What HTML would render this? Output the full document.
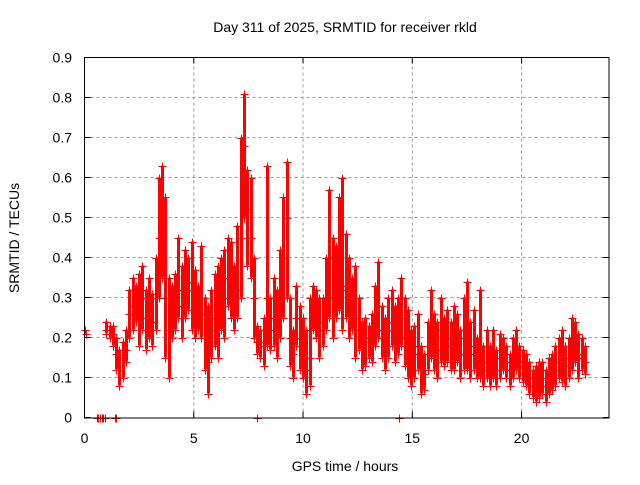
<!DOCTYPE html>
<html><head><meta charset="utf-8"><style>
html,body{margin:0;padding:0;background:#fff;}
svg text{font-family:"Liberation Sans","DejaVu Sans",sans-serif;font-size:14px;fill:#000;}
</style></head><body>
<svg id="chart" width="640" height="480" viewBox="0 0 640 480" xmlns="http://www.w3.org/2000/svg">
<rect width="640" height="480" fill="#fff"/>
<g id="grid"></g>
<g id="marks"></g>
<rect x="84.5" y="57.5" width="524.5" height="360.5" fill="none" stroke="#000" stroke-width="1"/>
<g id="ticks"></g>
<text x="345" y="32" text-anchor="middle">Day 311 of 2025, SRMTID for receiver rkld</text>
<text x="345" y="471" text-anchor="middle">GPS time / hours</text>
<text x="19" y="238" text-anchor="middle" transform="rotate(-90 19 238)">SRMTID / TECUs</text>
</svg>
<script>
const xTicks=[0,5,10,15,20];
const yTicks=[0,0.1,0.2,0.3,0.4,0.5,0.6,0.7,0.8,0.9];
const yTickLabels=["0","0.1","0.2","0.3","0.4","0.5","0.6","0.7","0.8","0.9"];
const hours=[1.00,1.15,1.30,1.45,1.60,1.75,1.90,2.05,2.20,2.35,2.50,2.65,2.80,2.95,3.10,3.25,3.40,3.55,3.70,3.85,4.00,4.15,4.30,4.45,4.60,4.75,4.90,5.05,5.20,5.35,5.50,5.65,5.80,5.95,6.10,6.25,6.40,6.55,6.70,6.85,7.00,7.15,7.30,7.45,7.60,7.75,7.90,8.05,8.20,8.35,8.50,8.65,8.80,8.95,9.10,9.25,9.40,9.55,9.70,9.85,10.00,10.15,10.30,10.45,10.60,10.75,10.90,11.05,11.20,11.35,11.50,11.65,11.80,11.95,12.10,12.25,12.40,12.55,12.70,12.85,13.00,13.15,13.30,13.45,13.60,13.75,13.90,14.05,14.20,14.35,14.50,14.65,14.80,14.95,15.10,15.25,15.40,15.55,15.70,15.85,16.00,16.15,16.30,16.45,16.60,16.75,16.90,17.05,17.20,17.35,17.50,17.65,17.80,17.95,18.10,18.25,18.40,18.55,18.70,18.85,19.00,19.15,19.30,19.45,19.60,19.75,19.90,20.05,20.20,20.35,20.50,20.65,20.80,20.95,21.10,21.25,21.40,21.55,21.70,21.85,22.00,22.15,22.30,22.45,22.60,22.75,22.90];
const lowVals=[.21,.20,.18,.12,.08,.10,.14,.20,.22,.24,.18,.22,.17,.20,.18,.22,.30,.35,.15,.10,.20,.22,.25,.20,.25,.27,.22,.20,.22,.20,.12,.06,.15,.18,.15,.22,.20,.28,.25,.22,.25,.30,.50,.38,.35,.20,.16,.15,.13,.18,.17,.18,.15,.20,.25,.30,.13,.10,.18,.12,.10,.06,.08,.22,.20,.15,.18,.22,.25,.20,.25,.27,.22,.25,.20,.22,.15,.17,.12,.13,.15,.14,.18,.20,.15,.12,.15,.18,.14,.16,.18,.13,.10,.08,.10,.12,.06,.07,.12,.15,.12,.10,.14,.13,.14,.12,.12,.14,.10,.12,.12,.10,.12,.10,.10,.08,.10,.08,.10,.08,.10,.12,.10,.08,.10,.12,.10,.09,.08,.06,.05,.04,.05,.06,.04,.06,.07,.08,.10,.09,.08,.10,.12,.14,.10,.12,.11];
const midVals=[.22,.22,.21,.16,.12,.15,.17,.26,.28,.29,.26,.30,.25,.28,.24,.30,.45,.50,.30,.22,.26,.28,.32,.28,.33,.34,.32,.28,.28,.26,.20,.14,.22,.25,.24,.30,.30,.35,.33,.30,.32,.45,.68,.52,.45,.30,.19,.19,.18,.30,.22,.25,.23,.30,.40,.50,.20,.16,.25,.20,.17,.12,.15,.28,.28,.22,.24,.30,.40,.30,.32,.35,.32,.33,.30,.28,.25,.22,.18,.20,.19,.20,.24,.28,.22,.18,.22,.24,.20,.22,.25,.20,.18,.14,.16,.18,.12,.11,.18,.22,.19,.17,.22,.19,.20,.18,.18,.20,.16,.20,.20,.16,.18,.14,.18,.12,.14,.12,.15,.12,.15,.16,.14,.12,.14,.16,.14,.13,.12,.10,.08,.07,.09,.10,.08,.10,.11,.12,.14,.14,.13,.15,.18,.19,.15,.16,.14];
const highVals=[.24,.23,.23,.20,.17,.19,.22,.32,.35,.33,.36,.38,.32,.35,.31,.40,.60,.63,.55,.35,.33,.36,.45,.38,.42,.40,.44,.37,.33,.43,.30,.28,.32,.36,.38,.40,.42,.45,.44,.38,.48,.70,.81,.62,.60,.40,.23,.22,.25,.63,.30,.35,.32,.42,.55,.64,.30,.22,.33,.28,.25,.22,.30,.33,.32,.30,.30,.40,.57,.45,.43,.55,.60,.46,.40,.35,.38,.30,.24,.25,.23,.26,.33,.39,.28,.25,.30,.32,.28,.30,.35,.30,.27,.22,.23,.26,.18,.16,.24,.32,.26,.24,.30,.25,.27,.24,.28,.26,.22,.30,.34,.24,.27,.20,.32,.18,.22,.18,.22,.17,.21,.20,.18,.16,.20,.22,.18,.17,.16,.14,.12,.13,.14,.14,.12,.15,.16,.18,.20,.22,.18,.20,.25,.24,.21,.20,.18];
const extraHours=[0.0,0.05,0.55,0.62,0.70,0.78,0.85,0.95,1.40,1.45,7.90,14.40];
const extraVals=[0.22,0.21,0,0,0,0,0,0,0,0,0,0];

const X0=84.5,X1=609,Y0=417.5,Y1=57.5;
function xs(h){return X0+(h/24)*(X1-X0);}
function ys(v){return Y0-(v/0.9)*(Y0-Y1);}
const NS="http://www.w3.org/2000/svg";
const grid=document.getElementById('grid'),ticks=document.getElementById('ticks'),marks=document.getElementById('marks');
function mk(tag,attrs,parent){const e=document.createElementNS(NS,tag);for(const k in attrs)e.setAttribute(k,attrs[k]);parent.appendChild(e);return e;}
xTicks.forEach(t=>{
  const x=xs(t);
  if(t>0){const g=mk('line',{x1:x,y1:Y0,x2:x,y2:Y1,stroke:'#999','stroke-dasharray':'3,3'},grid);
  
  }
  const l=mk('text',{x:x,y:443,'text-anchor':'middle'},ticks);l.textContent=String(t);
  
  
  mk('line',{x1:x,y1:Y0,x2:x,y2:Y0-6,stroke:'#000'},ticks);
  mk('line',{x1:x,y1:Y1,x2:x,y2:Y1+6,stroke:'#000'},ticks);
});
yTicks.forEach((t,i)=>{
  const y=ys(t);
  if(t>0&&t<0.9){const g=mk('line',{x1:X0,y1:y,x2:X1,y2:y,stroke:'#999','stroke-dasharray':'3,3'},grid);
  
  }
  const l=mk('text',{x:72,y:y+5,'text-anchor':'end'},ticks);l.textContent=yTickLabels[i];
  
  
  mk('line',{x1:X0,y1:y,x2:X0+6,y2:y,stroke:'#000'},ticks);
  mk('line',{x1:X1,y1:y,x2:X1-6,y2:y,stroke:'#000'},ticks);
});
let d='';let dl='';
function plus(h,v){const x=Math.round(xs(h))+0.5,y=Math.round(ys(v))+0.5;d+=`M${x-4} ${y}h8M${x} ${y-4}v8`;}
hours.forEach((h,i)=>{
  plus(h,lowVals[i]);plus(h,midVals[i]);plus(h,highVals[i]);
  const x=Math.round(xs(h))+0.5;
  dl+=`M${x} ${ys(lowVals[i]).toFixed(1)}V${ys(highVals[i]).toFixed(1)}`;
});
extraHours.forEach((h,i)=>plus(h,extraVals[i]));
const spread=mk('path',{d:dl,stroke:'#f00','stroke-width':3,fill:'none','shape-rendering':'crispEdges'},marks);


const pts=mk('path',{d:d,stroke:'#f00','stroke-width':1,fill:'none','shape-rendering':'crispEdges'},marks);


</script>
</body></html>
